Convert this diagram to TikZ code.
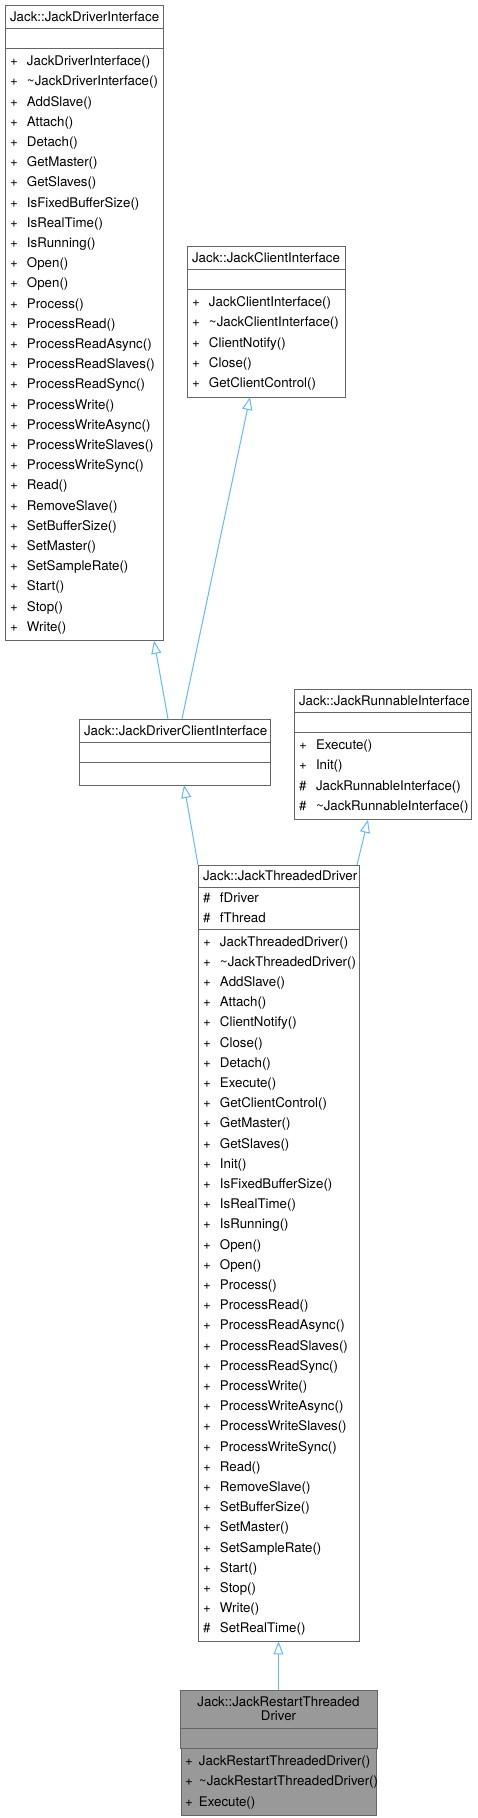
\documentclass[tikz,border=0pt]{standalone}
\usepackage{fontspec}
\setmainfont{TeX Gyre Heros}
\usepackage{xcolor}
\usetikzlibrary{arrows.meta,positioning,calc}

\definecolor{boxgray}{HTML}{666666}
\definecolor{fillgray}{HTML}{999999}
\definecolor{edgeblue}{HTML}{63B8FF}

\newlength{\symw}
\setlength{\symw}{17pt}
\newcommand{\mpub}[1]{\strut\makebox[\symw][l]{+}#1}
\newcommand{\mprot}[1]{\strut\makebox[\symw][l]{\#}#1}
\newcommand{\dtor}{\textasciitilde}

\begin{document}
\begin{tikzpicture}[
  x=1pt, y=-1pt,
  ttl/.style={draw=boxgray, line width=1pt, fill=white, text width=#1,
              align=center, inner xsep=5pt, inner ysep=0pt, outer sep=0pt,
              minimum height=23pt, font=\fontsize{13.3}{14}\selectfont},
  mem/.style={draw=boxgray, line width=1pt, fill=white, text width=#1,
              align=left, inner xsep=5pt, inner ysep=3.5pt, outer sep=0pt,
              minimum height=20pt, font=\fontsize{13.3}{20.2}\selectfont},
  inh/.style={-{Triangle[open, length=13pt, width=10pt]}, draw=edgeblue,
              line width=1pt},
]
\useasboundingbox (0,0) rectangle (477,1818);

%% --- JackDriverInterface -------------------------------------------------
\node[ttl=148, anchor=north west] (drv) at (5,5) {Jack::JackDriverInterface};
\node[mem=148, below=0pt of drv] (drv-a) {};
\node[mem=148, below=0pt of drv-a] (drv-m)
  {\mpub{JackDriverInterface()}\\\mpub{\dtor JackDriverInterface()}\\
   \mpub{AddSlave()}\\\mpub{Attach()}\\\mpub{Detach()}\\\mpub{GetMaster()}\\
   \mpub{GetSlaves()}\\\mpub{IsFixedBufferSize()}\\\mpub{IsRealTime()}\\
   \mpub{IsRunning()}\\\mpub{Open()}\\\mpub{Open()}\\\mpub{Process()}\\
   \mpub{ProcessRead()}\\\mpub{ProcessReadAsync()}\\\mpub{ProcessReadSlaves()}\\
   \mpub{ProcessReadSync()}\\\mpub{ProcessWrite()}\\\mpub{ProcessWriteAsync()}\\
   \mpub{ProcessWriteSlaves()}\\\mpub{ProcessWriteSync()}\\\mpub{Read()}\\
   \mpub{RemoveSlave()}\\\mpub{SetBufferSize()}\\\mpub{SetMaster()}\\
   \mpub{SetSampleRate()}\\\mpub{Start()}\\\mpub{Stop()}\\\mpub{Write()}};

%% --- JackClientInterface -------------------------------------------------
\node[ttl=148, anchor=north west] (cli) at (187,246) {Jack::JackClientInterface};
\node[mem=148, below=0pt of cli] (cli-a) {};
\node[mem=148, below=0pt of cli-a] (cli-m)
  {\mpub{JackClientInterface()}\\\mpub{\dtor JackClientInterface()}\\
   \mpub{ClientNotify()}\\\mpub{Close()}\\\mpub{GetClientControl()}};

%% --- JackDriverClientInterface -------------------------------------------
\node[ttl=181, anchor=north west] (dci) at (79,719) {Jack::JackDriverClientInterface};
\node[mem=181, below=0pt of dci] (dci-a) {};
\node[mem=181, below=0pt of dci-a, minimum height=23pt] (dci-m) {};

%% --- JackRunnableInterface -----------------------------------------------
\node[ttl=167, anchor=north west] (ri) at (294,689) {Jack::JackRunnableInterface};
\node[mem=167, below=0pt of ri] (ri-a) {};
\node[mem=167, below=0pt of ri-a] (ri-m)
  {\mpub{Execute()}\\\mpub{Init()}\\\mprot{JackRunnableInterface()}\\
   \mprot{\dtor JackRunnableInterface()}};

%% --- JackThreadedDriver --------------------------------------------------
\node[ttl=151, anchor=north west, minimum height=22pt] (td) at (198,865)
  {Jack::JackThreadedDriver};
\node[mem=151, below=0pt of td, inner ysep=1pt] (td-a) {\mprot{fDriver}\\\mprot{fThread}};
\node[mem=151, below=0pt of td-a, inner ysep=2.5pt] (td-m)
  {\mpub{JackThreadedDriver()}\\\mpub{\dtor JackThreadedDriver()}\\
   \mpub{AddSlave()}\\\mpub{Attach()}\\\mpub{ClientNotify()}\\\mpub{Close()}\\
   \mpub{Detach()}\\\mpub{Execute()}\\\mpub{GetClientControl()}\\
   \mpub{GetMaster()}\\\mpub{GetSlaves()}\\\mpub{Init()}\\
   \mpub{IsFixedBufferSize()}\\\mpub{IsRealTime()}\\\mpub{IsRunning()}\\
   \mpub{Open()}\\\mpub{Open()}\\\mpub{Process()}\\\mpub{ProcessRead()}\\
   \mpub{ProcessReadAsync()}\\\mpub{ProcessReadSlaves()}\\\mpub{ProcessReadSync()}\\
   \mpub{ProcessWrite()}\\\mpub{ProcessWriteAsync()}\\\mpub{ProcessWriteSlaves()}\\
   \mpub{ProcessWriteSync()}\\\mpub{Read()}\\\mpub{RemoveSlave()}\\
   \mpub{SetBufferSize()}\\\mpub{SetMaster()}\\\mpub{SetSampleRate()}\\
   \mpub{Start()}\\\mpub{Stop()}\\\mpub{Write()}\\\mprot{SetRealTime()}};

%% --- JackRestartThreadedDriver -------------------------------------------
\node[ttl=187, anchor=north west, fill=fillgray, minimum height=38pt] (rtd)
  at (180,1690) {Jack::JackRestartThreaded\\Driver};
\node[mem=187, below=0pt of rtd, fill=fillgray] (rtd-a) {};
\node[mem=187, below=0pt of rtd-a, fill=fillgray, inner xsep=4pt] (rtd-m)
  {\setlength{\symw}{14pt}%
   \mpub{JackRestartThreadedDriver()}\\\mpub{\dtor JackRestartThreadedDriver()}\\
   \mpub{Execute()}};

%% --- inheritance ---------------------------------------------------------
\draw[inh] ($(dci.north west)+(89,0)$)  -- ($(drv-m.south west)+(149,0)$);
\draw[inh] ($(dci.north west)+(103,0)$) -- ($(cli-m.south west)+(63,0)$);
\draw[inh] (td.north west)              -- ($(dci-m.south west)+(105,0)$);
\draw[inh] ($(td.north east)+(-2,0)$)   -- ($(ri-m.south west)+(74,0)$);
\draw[inh] (rtd.north)                  -- (td-m.south);

\end{tikzpicture}
\end{document}
